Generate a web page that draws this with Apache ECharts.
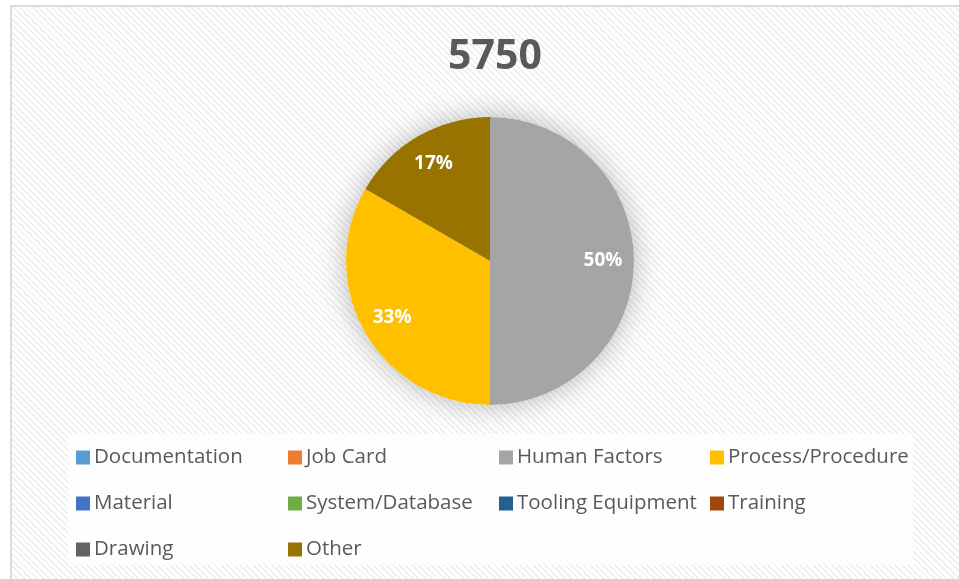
<!DOCTYPE html>
<html>
<head>
<meta charset="utf-8">
<script src="https://cdn.jsdelivr.net/npm/echarts@6/dist/echarts.min.js"></script>
<style>
    html, body { margin: 0; padding: 0; background: #fff; }
    #frame {
        position: absolute; left: 10px; top: 5px; width: 960px; height: 600px;
        border: 2px solid #dcdcdc; box-sizing: border-box;
        background: repeating-linear-gradient(45deg, #ffffff 0px, #ffffff 2.5px, #f1f1f1 2.5px, #f1f1f1 4.5px);
    }
    #chart { position: absolute; left: 0; top: 0; width: 959px; height: 579px; }
</style>
</head>
<body>
<div id="frame"></div>
<div id="chart"></div>
<script>
// 数据
const title = '5750'
const categories = ['Documentation', 'Job Card', 'Human Factors', 'Process/Procedure', 'Material',
    'System/Database', 'Tooling Equipment', 'Training', 'Drawing', 'Other']
const values = [0, 0, 3, 2, 0, 0, 0, 0, 0, 1]
const colors = ['#5b9bd5', '#ed7d31', '#a5a5a5', '#ffc000', '#4472c4',
    '#70ad47', '#255e91', '#9e480e', '#636363', '#997300']

// 图例分列
const legendCols = [
    { left: 76, names: ['Documentation', 'Material', 'Drawing'] },
    { left: 288, names: ['Job Card', 'System/Database', 'Other'] },
    { left: 499, names: ['Human Factors', 'Tooling Equipment'] },
    { left: 710, names: ['Process/Procedure', 'Training'] }
]

const FONT = '"Open Sans", "Noto Sans", sans-serif'
const CENTER = [490, 261]
const RADIUS = 144

let pieData = categories.map((name, i) => ({ name: name, value: values[i] }))

let chart = echarts.init(document.getElementById('chart'))
chart.setOption({
    animation: false,
    color: colors,
    title: {
        text: title,
        left: 490,
        top: 32,
        textAlign: 'center',
        textStyle: { fontFamily: FONT, fontSize: 41, fontWeight: 'bold', color: '#595959' }
    },
    graphic: [{
        type: 'rect',
        shape: { x: 68, y: 434, width: 845, height: 131 },
        style: { fill: 'rgba(255,255,255,0.8)' },
        z: -1
    }],
    legend: legendCols.map(col => ({
        orient: 'vertical',
        left: col.left,
        top: 447,
        padding: 0,
        data: col.names,
        icon: 'rect',
        itemWidth: 14,
        itemHeight: 14,
        itemGap: 25,
        selectedMode: false,
        textStyle: { fontFamily: FONT, fontSize: 20.5, color: '#595959', lineHeight: 20, padding: [0, 0, 0, -1] }
    })),
    series: [
        {
            // 阴影底盘
            type: 'pie',
            center: CENTER,
            radius: [0, RADIUS],
            silent: true,
            label: { show: false },
            data: [{ name: '_bg', value: 1, itemStyle: { color: '#ffffff', shadowBlur: 28, shadowColor: 'rgba(0,0,0,0.28)' } }],
            z: 1
        },
        {
            type: 'pie',
            center: CENTER,
            radius: [0, RADIUS],
            startAngle: 90,
            clockwise: true,
            label: { show: false },
            labelLine: { show: false },
            itemStyle: { borderWidth: 0 },
            data: pieData,
            z: 2
        },
        {
            // 百分比标签
            type: 'pie',
            center: CENTER,
            radius: [76, RADIUS],
            startAngle: 90,
            clockwise: true,
            silent: true,
            itemStyle: { color: 'rgba(0,0,0,0)' },
            labelLine: { show: false },
            label: {
                show: true,
                position: 'inside',
                fontFamily: FONT,
                fontSize: 19,
                fontWeight: 'bold',
                color: '#ffffff',
                formatter: p => p.value ? Math.round(p.percent) + '%' : ''
            },
            data: pieData,
            z: 3
        }
    ]
})
</script>
</body>
</html>
